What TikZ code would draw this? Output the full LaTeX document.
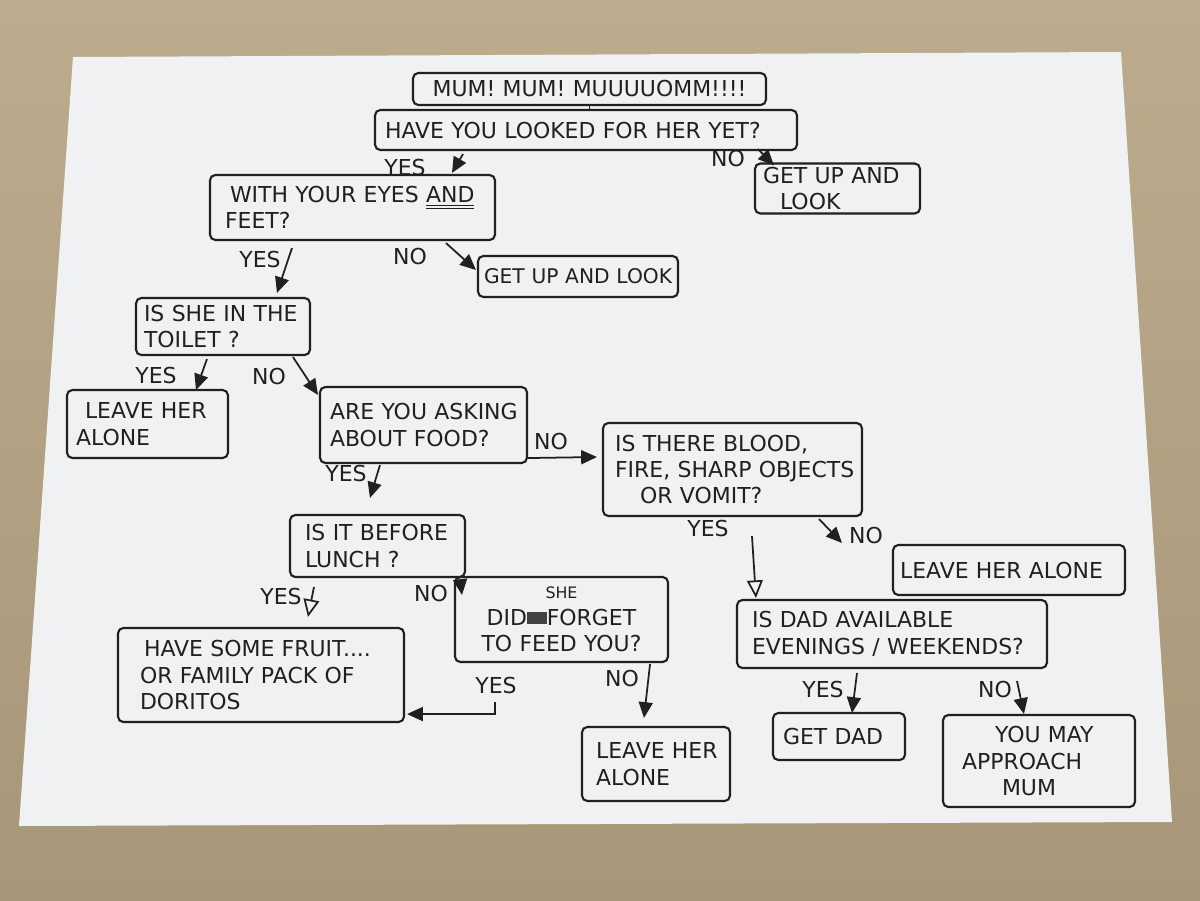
\documentclass[tikz,border=0pt]{standalone}
\usepackage{fontspec}
\setmainfont{DejaVu Sans}
\usetikzlibrary{arrows.meta,calc}
\definecolor{ink}{RGB}{32,32,34}
\definecolor{paper}{RGB}{240,241,243}
\definecolor{carpettop}{RGB}{188,171,140}
\definecolor{carpetbot}{RGB}{168,150,120}
\tikzset{
  box/.style={draw=ink, line width=1.2pt, rounded corners=3pt, align=left,
    inner ysep=2pt, text=ink, font=\fontsize{12.5}{15}\selectfont},
  lbl/.style={text=ink, font=\fontsize{12.5}{15}\selectfont, inner sep=0pt},
  arr/.style={draw=ink, line width=1pt, -{Triangle[length=9pt,width=8pt]}},
  arropen/.style={draw=ink, line width=1pt, -{Triangle[open,length=10pt,width=9pt,line width=1pt]}},
  link/.style={draw=ink, line width=1.1pt}
}
\begin{document}
\begin{tikzpicture}[x=0.02cm,y=-0.02cm]
\useasboundingbox (0,0) rectangle (1200,900);
\shade[top color=carpettop, bottom color=carpetbot] (0,0) rectangle (1200,900);
\fill[paper] (73,57) -- (1121,52) -- (1172,822) -- (19,826) -- cycle;

% boxes
\node[box, align=center, minimum width=7.06cm, minimum height=0.64cm, inner xsep=0.2cm, text width=6.66cm] (b1) at (589.5,89) {MUM! MUM! MUUUUOMM!!!!};
\node[box, minimum width=8.44cm, minimum height=0.8cm, inner xsep=0.2cm, text width=8.04cm] (b2) at (586,130) {\mbox{HAVE YOU LOOKED FOR HER YET?}};
\node[box, minimum width=3.3cm, minimum height=0.98cm, inner xsep=0.16cm, text width=2.98cm] (b3) at (837.5,188.5) {\mbox{GET UP AND}\\\hspace*{0.34cm}LOOK};
\node[box, minimum width=5.7cm, minimum height=1.3cm, inner xsep=0.3cm, text width=5.1cm] (b4) at (352.5,207.5) {\mbox{\hspace*{0.1cm}WITH YOUR EYES \underline{\underline{AND}}}\\FEET?};
\node[box, font=\fontsize{11.5}{14}\selectfont, minimum width=4.0cm, minimum height=0.82cm, inner xsep=0.12cm, text width=3.76cm] (b5) at (578,276.5) {\mbox{GET UP AND LOOK}};
\node[box, minimum width=3.48cm, minimum height=1.14cm, inner xsep=0.16cm, text width=3.16cm] (b6) at (223,326.5) {\mbox{IS SHE IN THE}\\\mbox{TOILET ?}};
\node[box, minimum width=3.22cm, minimum height=1.36cm, inner xsep=0.18cm, text width=2.86cm] (b7) at (147.5,424) {\mbox{\hspace*{0.18cm}LEAVE HER}\\ALONE};
\node[box, minimum width=4.14cm, minimum height=1.52cm, inner xsep=0.2cm, text width=3.74cm] (b8) at (423.5,425) {\mbox{ARE YOU ASKING}\\\mbox{ABOUT FOOD?}};
\node[box, minimum width=5.18cm, minimum height=1.86cm, inner xsep=0.24cm, text width=4.7cm] (b9) at (732.5,469.5) {\mbox{IS THERE BLOOD,}\\\mbox{FIRE, SHARP OBJECTS}\\\mbox{\hspace*{0.5cm}OR VOMIT?}};
\node[box, minimum width=4.64cm, minimum height=1.0cm, inner xsep=0.14cm, text width=4.36cm] (b10) at (1009,570) {\mbox{LEAVE HER ALONE}};
\node[box, minimum width=3.5cm, minimum height=1.24cm, inner xsep=0.3cm, text width=2.9cm] (b11) at (377.5,546) {\mbox{IS IT BEFORE}\\\mbox{LUNCH ?}};
\node[box, align=center, minimum width=4.26cm, minimum height=1.7cm, inner xsep=0.2cm, text width=3.86cm] (b12) at (561.5,619.5) {{\fontsize{9}{10}\selectfont SHE}\\\mbox{DID{\color{ink!85}\rule[0.05em]{0.9em}{0.55em}}FORGET}\\\mbox{TO FEED YOU?}};
\node[box, minimum width=5.72cm, minimum height=1.88cm, inner xsep=0.44cm, text width=4.84cm] (b13) at (261,675) {\mbox{\hspace*{0.08cm}HAVE SOME FRUIT....}\\\mbox{OR FAMILY PACK OF}\\DORITOS};
\node[box, minimum width=2.96cm, minimum height=1.48cm, inner xsep=0.28cm, text width=2.4cm] (b14) at (656,764) {\mbox{LEAVE HER}\\ALONE};
\node[box, minimum width=6.2cm, minimum height=1.36cm, inner xsep=0.3cm, text width=5.6cm] (b15) at (892,634) {\mbox{IS DAD AVAILABLE}\\\mbox{EVENINGS / WEEKENDS?}};
\node[box, minimum width=2.64cm, minimum height=0.94cm, inner xsep=0.2cm, text width=2.24cm] (b16) at (839,736.5) {\mbox{GET DAD}};
\node[box, minimum width=3.84cm, minimum height=1.84cm, inner xsep=0.38cm, text width=3.08cm] (b17) at (1039,761) {\mbox{\hspace*{0.66cm}YOU MAY}\\APPROACH\\\mbox{\hspace*{0.8cm}MUM}};

% labels
\node[lbl] (l1) at (405,168) {YES};
\node[lbl] (l2) at (728,158) {NO};
\node[lbl] (l3) at (260,259) {YES};
\node[lbl] (l4) at (410,256) {NO};
\node[lbl] (l5) at (156,375) {YES};
\node[lbl] (l6) at (269,376) {NO};
\node[lbl] (l7) at (346,473) {YES};
\node[lbl] (l8) at (551,441) {NO};
\node[lbl] (l9) at (708,528) {YES};
\node[lbl] (l10) at (866,535) {NO};
\node[lbl] (l11) at (281,596) {YES};
\node[lbl] (l12) at (431,593) {NO};
\node[lbl] (l13) at (496,685) {YES};
\node[lbl] (l14) at (622,678) {NO};
\node[lbl] (l15) at (823,689) {YES};
\node[lbl] (l16) at (995,689) {NO};

% connectors
\draw[link] (b1.south) -- (b1.south |- b2.north);
\draw[arr] ($(b2.south west)+(89,3)$) -- ($(b4.north west)+(243,-1)$);
\draw[arr] ($(b2.south east)+(-40,-2)$) -- ($(b3.north west)+(20,3)$);
\draw[arr] ($(b4.south west)+(83,7)$) -- ($(b6.north west)+(142,-4)$);
\draw[arr] ($(b4.south west)+(237,2)$) -- ($(b5.west)+(-1,-6.5)$);
\draw[arr] ($(b6.south west)+(72,3)$) -- ($(b7.north west)+(130,1)$);
\draw[arr] ($(b6.south west)+(158,1)$) -- ($(b8.north west)+(-1,9)$);
\draw[arr] ($(b8.south west)+(61,1)$) -- ($(b11.north west)+(81,-16)$);
\draw[arr] ($(b8.south east)+(0,-6)$) -- ($(b9.west)+(-5,-12.5)$);
\draw[arropen] ($(b9.south west)+(150,19)$) -- ($(b15.north west)+(20,-1)$);
\draw[arr] ($(b9.south east)+(-44,2)$) -- ($(b10.north west)+(-50,-1)$);
\draw[arropen] ($(b11.south west)+(25,9)$) -- ($(b13.north west)+(191,-10)$);
\draw[arr] ($(b11.south east)+(-6,1)$) -- ($(b12.north west)+(8,19)$);
\draw[arr] ($(b12.south west)+(41,39)$) |- ($(b13.south east)+(2,-9)$);
\draw[arr] ($(b12.south east)+(-19,1)$) -- ($(b14.north west)+(63,-8)$);
\draw[arr] ($(b15.south west)+(121,4)$) -- ($(b16.north west)+(80,1)$);
\draw[arr] ($(b15.south east)+(-31,12)$) -- ($(b17.north west)+(82,0)$);
\end{tikzpicture}
\end{document}
